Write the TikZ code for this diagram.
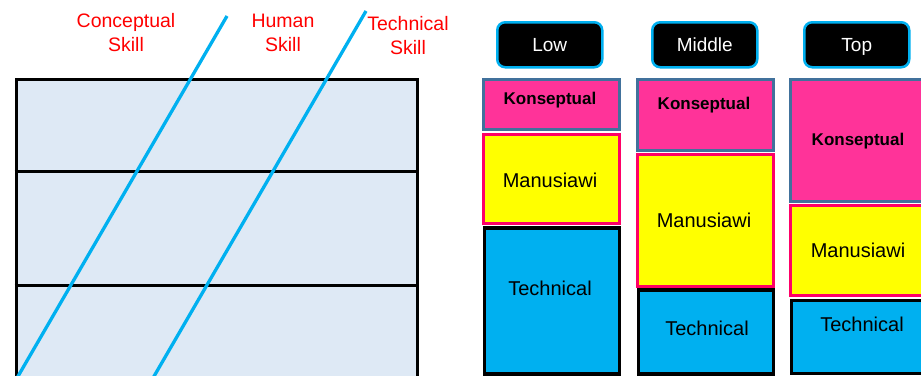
\documentclass[tikz,border=0pt]{standalone}
\usepackage{fontspec}
\setmainfont{Liberation Sans}
\definecolor{tablefill}{HTML}{DEE9F5}
\definecolor{skillblue}{HTML}{00B0F0}
\definecolor{konsfill}{HTML}{FF3399}
\definecolor{konsedge}{HTML}{41719C}
\definecolor{manedge}{HTML}{FF0066}
\definecolor{manfill}{HTML}{FFFF00}
\definecolor{labelred}{HTML}{FF0000}
\tikzset{
  bigtext/.style={font=\fontsize{20}{24}\selectfont, inner sep=0pt, anchor=base},
  konstext/.style={font=\fontsize{17}{20}\selectfont\bfseries, inner sep=0pt, anchor=base},
  skilllabel/.style={font=\fontsize{19.5}{24}\selectfont, text=labelred, align=center, inner sep=0pt},
  header/.style={draw=skillblue, fill=black, line width=2.5pt, rounded corners=8pt, text=white,
    font=\fontsize{19}{22}\selectfont, minimum width=105, minimum height=45, anchor=north west,
    inner sep=0pt, text height=13.6pt, text depth=0pt},
  kbox/.style={draw=konsedge, fill=konsfill, line width=3pt, anchor=north west, inner sep=0pt},
  mbox/.style={draw=manedge, fill=manfill, line width=3pt, anchor=north west, inner sep=0pt},
  tbox/.style={draw=black, fill=skillblue, line width=3.5pt, anchor=north west, inner sep=0pt},
  skillline/.style={draw=skillblue, line width=3.3pt},
  rowline/.style={draw=black, line width=3pt}
}
\begin{document}
\begin{tikzpicture}[x=1pt,y=-1pt]
\useasboundingbox (0,0) rectangle (921,375);
\clip (0,0) rectangle (921,375);
\fill[white] (0,0) rectangle (921,375);
% left table
\node[draw=black, fill=tablefill, line width=3pt, anchor=north west, inner sep=0pt,
  minimum width=401, minimum height=310] (table) at (14.5,78) {};
\coordinate (r1l) at (14.5,171); \coordinate (r1r) at (415.5,171);
\coordinate (r2l) at (14.5,285); \coordinate (r2r) at (415.5,285);
\draw[rowline] (r1l) -- (r1r);
\draw[rowline] (r2l) -- (r2r);
% skill lines
\coordinate (s1a) at (227,16); \coordinate (s1b) at (17,378);
\coordinate (s2a) at (366,11); \coordinate (s2b) at (153,378);
\draw[skillline] (s1a) -- (s1b);
\draw[skillline] (s2a) -- (s2b);
% labels
\node[skilllabel] (lc) at (126,33) {Conceptual\\Skill};
\node[skilllabel] (lh) at (283,33) {Human\\Skill};
\node[skilllabel] (lt) at (408,36) {Technical\\Skill};
% headers
\node[header] (hlow) at (496,21) {Low};
\node[header] (hmid) at (651,21) {Middle};
\node[header] (htop) at (803,21) {Top};
% Low column
\node[kbox, minimum width=136, minimum height=50] (lowK) at (482,78) {};
\node[mbox, minimum width=136, minimum height=89] (lowM) at (482,132.5) {};
\node[tbox, minimum width=135, minimum height=146] (lowT) at (482.5,226) {};
% Middle column
\node[kbox, minimum width=136, minimum height=71] (midK) at (636,78) {};
\node[mbox, minimum width=136, minimum height=132] (midM) at (636,152.5) {};
\node[tbox, minimum width=135, minimum height=84] (midT) at (636.5,288) {};
% Top column
\node[kbox, minimum width=140, minimum height=122] (topK) at (789,78) {};
\node[mbox, minimum width=140, minimum height=90] (topM) at (789,203.5) {};
\node[tbox, minimum width=140, minimum height=73] (topT) at (789.5,298.5) {};
% texts
\node[konstext] (tlowK) at (550,104) {Konseptual};
\node[bigtext] (tlowM) at (550,187) {Manusiawi};
\node[bigtext] (tlowT) at (550,295) {Technical};
\node[konstext] (tmidK) at (704,109) {Konseptual};
\node[bigtext] (tmidM) at (704,227) {Manusiawi};
\node[bigtext] (tmidT) at (707,335) {Technical};
\node[konstext] (ttopK) at (858,145) {Konseptual};
\node[bigtext] (ttopM) at (858,257) {Manusiawi};
\node[bigtext] (ttopT) at (862,331) {Technical};
\end{tikzpicture}
\end{document}
